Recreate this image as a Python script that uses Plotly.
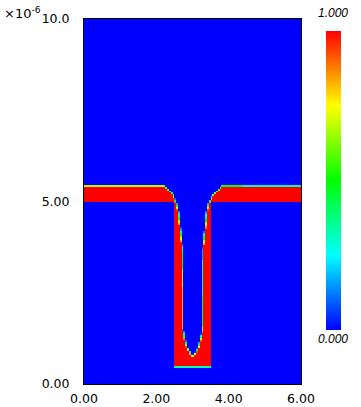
import numpy as np
import plotly.graph_objects as go

# ---- geometry (units: x in 1, y in 1e-6) ----
band_bottom = 4.998
band_top_x = [0.0, 1.5, 2.2, 3.8, 4.5, 6.0]
band_top_y = [5.435, 5.43, 5.43, 5.425, 5.42, 5.415]
trench_x = [2.5, 3.5]
trench_bottom = 0.4875
cav_y = [0.76, 0.84, 0.93, 1.08, 1.28, 1.5, 2.5, 3.67, 4.22, 4.77, 4.99, 5.18, 5.42, 5.8]
cav_left = [3.0, 2.93, 2.88, 2.83, 2.78, 2.745, 2.74, 2.72, 2.66, 2.60, 2.54, 2.46, 2.24, 2.0]
cav_right = [3.0, 3.08, 3.13, 3.18, 3.23, 3.27, 3.28, 3.29, 3.35, 3.40, 3.46, 3.57, 3.82, 4.0]

x_ticks = [0, 2, 4, 6]
x_tick_text = ["0.00", "2.00", "4.00", "6.00"]
y_ticks = [0, 5, 10]
y_tick_text = ["0.00", "5.00", "10.0"]

nx, ny = 120, 200
dx, dy = 6.0 / nx, 10.0 / ny
ss = 6
xc = (np.arange(nx) + 0.5) * dx
yc = (np.arange(ny) + 0.5) * dy

sub = (np.arange(ss) + 0.5) / ss
X = (np.arange(nx)[:, None] + sub[None, :]).ravel() * dx
Y = (np.arange(ny)[:, None] + sub[None, :]).ravel() * dy
XX, YY = np.meshgrid(X, Y)
top = np.interp(XX, band_top_x, band_top_y)
in_band = (YY >= band_bottom) & (YY <= top)
in_trench = (XX >= trench_x[0]) & (XX <= trench_x[1]) & (YY >= trench_bottom) & (YY <= top)
cl = np.interp(YY, cav_y, cav_left)
cr = np.interp(YY, cav_y, cav_right)
in_cav = (YY >= cav_y[0]) & (XX > cl) & (XX < cr)
mat = ((in_band | in_trench) & ~in_cav).astype(float)
z = mat.reshape(ny, ss, nx, ss).mean(axis=(1, 3))

colorscale = [[0.0, "#0000ff"], [0.25, "#00ffff"], [0.5, "#00ff00"],
              [0.75, "#ffff00"], [1.0, "#ff0000"]]

fig = go.Figure(go.Heatmap(
    x=xc, y=yc, z=z, zmin=0, zmax=1, zsmooth=False,
    colorscale=colorscale,
    colorbar=dict(thickness=15, thicknessmode="pixels", len=299, lenmode="pixels",
                  x=(326 - 84) / 217, xanchor="left", xref="paper", xpad=0, ypad=0,
                  y=(384 - 180.5) / 365, yanchor="middle",
                  outlinewidth=0, showticklabels=False, ticks=""),
))

tick_font = dict(family="DejaVu Sans, sans-serif", size=12.5, color="#000")
small_font = dict(family="Liberation Sans, Arial, sans-serif", size=12, color="#000")
cb_font = dict(family="Liberation Sans, Arial, sans-serif", size=12, color="#000", style="italic")
fig.update_layout(
    width=361, height=407,
    margin=dict(l=84, r=60, t=19, b=23, autoexpand=False),
    paper_bgcolor="white", plot_bgcolor="white",
    font=small_font,
    xaxis=dict(range=[0, 6], tickvals=x_ticks, ticktext=x_tick_text, ticks="",
               showgrid=False, zeroline=False, showline=True, mirror=True,
               linecolor="black", linewidth=1, ticklabelstandoff=3,
               tickfont=tick_font, automargin=False),
    yaxis=dict(range=[0, 10], tickvals=y_ticks, ticktext=y_tick_text, ticks="",
               showgrid=False, zeroline=False, showline=True, mirror=True,
               linecolor="black", linewidth=1, ticklabelstandoff=11,
               tickfont=tick_font, automargin=False),
    annotations=[
        dict(text="×10<sup>-6</sup>", xref="paper", yref="paper",
             x=(2 - 84) / 217, y=(384 - 13) / 365, xanchor="left", yanchor="middle",
             showarrow=False, font=dict(family="DejaVu Sans, sans-serif", size=13, color="#000")),
        dict(text="1.000", xref="paper", yref="paper",
             x=(333 - 84) / 217, y=(384 - 13) / 365, xanchor="center", yanchor="middle",
             showarrow=False, font=cb_font),
        dict(text="0.000", xref="paper", yref="paper",
             x=(333 - 84) / 217, y=(384 - 339) / 365, xanchor="center", yanchor="middle",
             showarrow=False, font=cb_font),
    ],
)

fig.write_html("out.html")
